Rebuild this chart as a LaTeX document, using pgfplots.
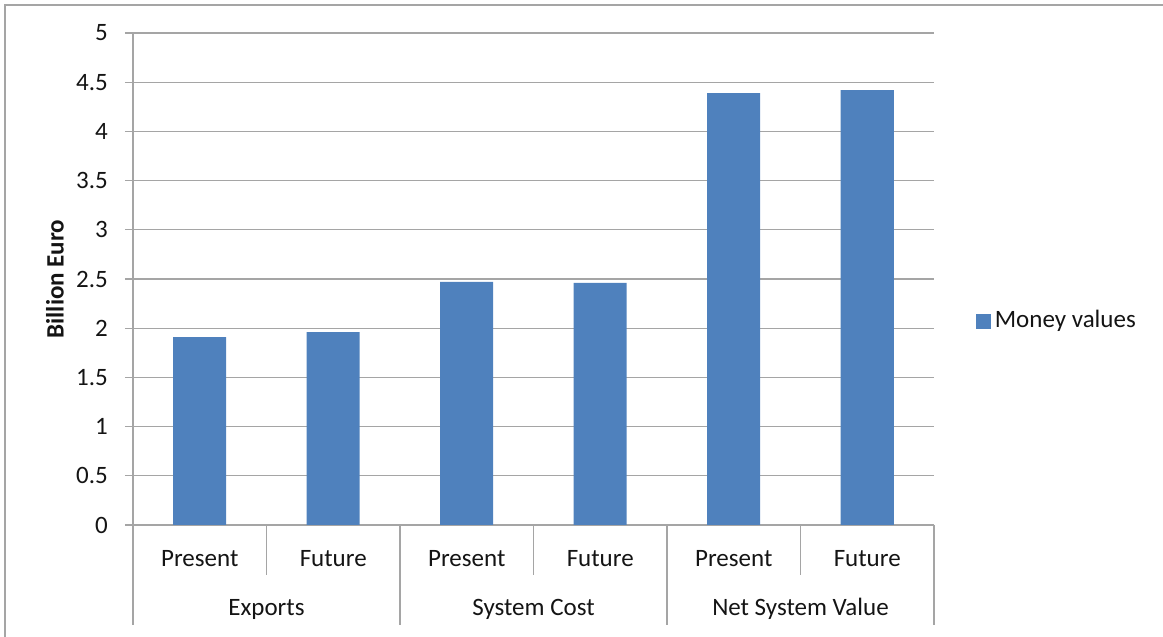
\documentclass[border=0pt]{standalone}
\usepackage{fontspec}
\setmainfont{Carlito}
\usepackage{pgfplots}
\pgfplotsset{compat=1.18}
\definecolor{barblue}{RGB}{79,129,189}
\definecolor{linegray}{RGB}{165,165,165}
\definecolor{textdark}{RGB}{20,20,20}
\begin{document}
\fontsize{25}{30}\selectfont
\begin{tikzpicture}[x=1pt,y=1pt]
% page frame (1 pt per pixel)
\useasboundingbox (-133,-112) rectangle (1030,525);
\draw[linegray, line width=1.5pt] (-128,-112) -- (-128,520) -- (1030,520);
\begin{axis}[
  at={(0,0)}, anchor=south west,
  scale only axis, width=801pt, height=492pt,
  xmin=-0.5, xmax=5.5, ymin=0, ymax=5,
  ybar, bar width=53pt,
  axis x line*=bottom, axis y line*=left,
  axis line style={linegray, line width=1.2pt},
  ymajorgrids, grid style={linegray, line width=1.2pt},
  ytick={0,0.5,...,5},
  yticklabels={0,0.5,1,1.5,2,2.5,3,3.5,4,4.5,5},
  tick align=outside, major tick length=8pt,
  ytick style={linegray, line width=1.2pt},
  xtick={0,1,2,3,4,5},
  xticklabels={Present,Future,Present,Future,Present,Future},
  xtick style={draw=none},
  xticklabel style={anchor=center, yshift=-26pt, text=textdark},
  yticklabel style={anchor=east, inner sep=0pt, xshift=-17pt, text=textdark},
  /pgf/number format/assume math mode=true,
  clip=false,
  ylabel={\bfseries Billion Euro},
  ylabel style={at={([xshift=-78pt]axis description cs:0,0.5)}, anchor=center, text=textdark},
  legend style={at={(1.052,0.4146)}, anchor=west, draw=none, fill=none, inner sep=0pt, text=textdark,
    nodes={inner sep=4pt}},
  legend image code/.code={\fill[barblue] (0pt,-7.5pt) rectangle (15pt,7.5pt);},
]
\addplot[fill=barblue, draw=none] coordinates {(0,1.91) (1,1.96) (2,2.47) (3,2.46) (4,4.39) (5,4.42)};
\addlegendentry{Money values}
% category separators below the axis
\pgfplotsinvokeforeach{0.5,2.5,4.5}{
  \draw[linegray, line width=1.2pt] (axis cs:#1,0) -- ([yshift=-50pt]axis cs:#1,0);
}
\pgfplotsinvokeforeach{-0.5,1.5,3.5,5.5}{
  \draw[linegray, line width=1.2pt] (axis cs:#1,0) -- ([yshift=-100pt]axis cs:#1,0);
}
% group names
\node[text=textdark] at ([yshift=-84pt]axis cs:0.5,0) {Exports};
\node[text=textdark] at ([yshift=-84pt]axis cs:2.5,0) {System Cost};
\node[text=textdark] at ([yshift=-84pt]axis cs:4.5,0) {Net System Value};
\end{axis}
\end{tikzpicture}
\end{document}
